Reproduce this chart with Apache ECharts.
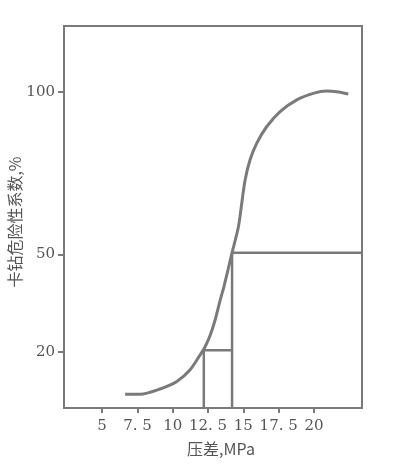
<!DOCTYPE html>
<html><head><meta charset="utf-8">
<script src="https://cdn.jsdelivr.net/npm/echarts@6/dist/echarts.min.js"></script>
<style>html,body{margin:0;padding:0;background:#fff}#c{width:393px;height:469px}</style>
</head><body><div id="c"></div>
<script>
// Curve: pressure difference (MPa) vs sticking risk coefficient (%)
const pressure = [6.63, 7.69, 9.10, 10.29, 11.23, 11.94, 12.29, 12.65, 13.00, 13.36, 13.62, 14.2, 14.65, 14.89, 15.12, 15.47, 15.95, 16.66, 17.60, 18.78, 19.95, 20.90, 21.61, 22.43];
const risk     = [7.0, 7.0, 8.6, 10.9, 14.5, 19.1, 21.6, 25.1, 29.8, 35.9, 40.0, 50.5, 58.5, 65.8, 72.8, 79.0, 84.2, 89.3, 93.9, 97.5, 99.5, 100.2, 100.0, 99.3];
// Reference construction lines
const refLowX = 12.2, refLowY = 20.5;
const refHighX = 14.2, refHighY = 50.5;
const xTicks = [5, 7.5, 10, 12.5, 15, 17.5, 20];
const yTicks = [20, 50, 100];
const xMin = 2.3, xMax = 23.4, yMin = 2.75, yMax = 120.2;

const curve = pressure.map((p, i) => [p, risk[i]]);
const gray = '#7a7a7a';
const chart = echarts.init(document.getElementById('c'));
chart.setOption({
  animation: false,
  backgroundColor: '#fff',
  grid: {left: 64, top: 26, right: 31, bottom: 61, containLabel: false, outerBoundsMode: 'none', show: true, borderColor: gray, borderWidth: 2},
  xAxis: {
    type: 'value', min: xMin, max: xMax,
    name: '压差,MPa', nameLocation: 'middle', nameGap: 33,
    nameTextStyle: {color: '#555', fontSize: 16, fontFamily: '"Noto Sans CJK SC", "DejaVu Serif", serif', padding: [0, 0, 0, 16]},
    axisLine: {show: true, lineStyle: {color: gray, width: 2}},
    axisTick: {show: true, length: 5, lineStyle: {color: gray, width: 2}, customValues: xTicks},
    axisLabel: {color: '#555', fontSize: 15, fontFamily: '"DejaVu Serif", serif', margin: 11, customValues: xTicks,
      formatter: v => String(v).replace('.', '. ')},
    splitLine: {show: false}
  },
  yAxis: {
    type: 'value', min: yMin, max: yMax,
    name: '卡钻危险性系数,%', nameLocation: 'middle', nameGap: 41, nameRotate: 90, nameMoveOverlap: false,
    nameTextStyle: {color: '#555', fontSize: 16, fontFamily: '"Noto Sans CJK SC", serif', padding: [0, 10, 0, 0]},
    axisLine: {show: true, lineStyle: {color: gray, width: 2}},
    axisTick: {show: true, length: 6, lineStyle: {color: gray, width: 2}, customValues: yTicks},
    axisLabel: {color: '#555', fontSize: 15, fontFamily: '"DejaVu Serif", serif', margin: 9, customValues: yTicks},
    splitLine: {show: false}
  },
  series: [
    {type: 'line', data: curve, smooth: 0.3, showSymbol: false, lineStyle: {color: gray, width: 3}},
    {type: 'line', data: [[refLowX, yMin], [refLowX, refLowY], [refHighX, refLowY]], showSymbol: false, lineStyle: {color: gray, width: 2.5}},
    {type: 'line', data: [[refHighX, yMin], [refHighX, refHighY], [xMax, refHighY]], showSymbol: false, lineStyle: {color: gray, width: 2.5}}
  ]
});
</script></body></html>
